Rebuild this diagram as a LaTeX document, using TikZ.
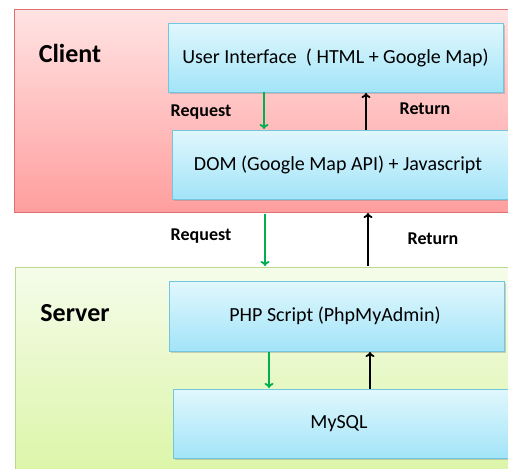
\documentclass[tikz,border=0pt]{standalone}
\usepackage{fontspec}
\setmainfont{Carlito}
\usetikzlibrary{arrows.meta,shadows}
\definecolor{clientTop}{HTML}{FFE3E3}
\definecolor{clientBot}{HTML}{FF9E9E}
\definecolor{clientLine}{HTML}{E07070}
\definecolor{serverTop}{HTML}{F5FCEA}
\definecolor{serverBot}{HTML}{DBF5A6}
\definecolor{serverLine}{HTML}{BBD98E}
\definecolor{boxTop}{HTML}{E0F7FD}
\definecolor{boxBot}{HTML}{A2E4F8}
\definecolor{boxLine}{HTML}{74C6DE}
\definecolor{reqGreen}{HTML}{00B050}
\tikzset{
  x=1pt, y=-1pt,
  region/.style={draw, line width=1pt, anchor=north west, inner sep=0pt},
  layerbox/.style={draw=boxLine, line width=1pt, top color=boxTop, bottom color=boxBot,
    anchor=north west, inner sep=0pt,
    drop shadow={shadow xshift=1.5pt, shadow yshift=-1.5pt, opacity=0.35, fill=black!50}},
  boxtext/.style={font=\fontsize{20}{22}\selectfont},
  regionlabel/.style={font=\fontsize{26}{28}\selectfont\bfseries},
  flowlabel/.style={font=\fontsize{18}{20}\selectfont\bfseries},
  req/.style={draw=reqGreen, line width=1.8pt, -{To[length=5pt,width=9pt]}},
  ret/.style={draw=black, line width=1.8pt, -{To[length=5pt,width=9pt]}},
}
\begin{document}
\begin{tikzpicture}
\useasboundingbox (0,0) rectangle (508,468);
% regions
\node[region, draw=clientLine, top color=clientTop, bottom color=clientBot,
  minimum width=500pt, minimum height=203pt] (client) at (14,9) {};
\node[region, draw=serverLine, top color=serverTop, bottom color=serverBot,
  minimum width=500pt, minimum height=210pt] (server) at (15,267) {};
\node[regionlabel] (clientlbl) at (70,53) {Client};
\node[regionlabel] (serverlbl) at (75,313) {Server};
% boxes
\node[layerbox, minimum width=335pt, minimum height=69pt] (ui) at (168,23) {};
\node[boxtext] (uit) at (335.5,57.5) {User Interface~~( HTML + Google Map)};
\node[layerbox, minimum width=340pt, minimum height=69pt] (dom) at (172,130) {};
\node[boxtext] (domt) at (338,164.5) {DOM (Google Map API) + Javascript};
\node[layerbox, minimum width=335pt, minimum height=70pt] (php) at (169,281) {};
\node[boxtext] (phpt) at (335,316) {PHP Script (PhpMyAdmin)};
\node[layerbox, minimum width=340pt, minimum height=69pt] (sql) at (173,389) {};
\node[boxtext] (sqlt) at (339,424) {MySQL};
% coordinates for arrows
\coordinate (a1s) at (264,92); \coordinate (a1e) at (264,129);
\coordinate (b1s) at (366,130); \coordinate (b1e) at (366,93);
\coordinate (a2s) at (265,214); \coordinate (a2e) at (265,266);
\coordinate (b2s) at (368,266); \coordinate (b2e) at (368,213);
\coordinate (a3s) at (269,352); \coordinate (a3e) at (269,388);
\coordinate (b3s) at (370,389); \coordinate (b3e) at (370,352);
\draw[req] (a1s) -- (a1e);
\draw[ret] (b1s) -- (b1e);
\draw[req] (a2s) -- (a2e);
\draw[ret] (b2s) -- (b2e);
\draw[req] (a3s) -- (a3e);
\draw[ret] (b3s) -- (b3e);
% labels
\node[flowlabel] (r1) at (201,112) {Request};
\node[flowlabel] (t1) at (425,109) {Return};
\node[flowlabel] (r2) at (201,236) {Request};
\node[flowlabel] (t2) at (433,239) {Return};
\end{tikzpicture}
\end{document}
